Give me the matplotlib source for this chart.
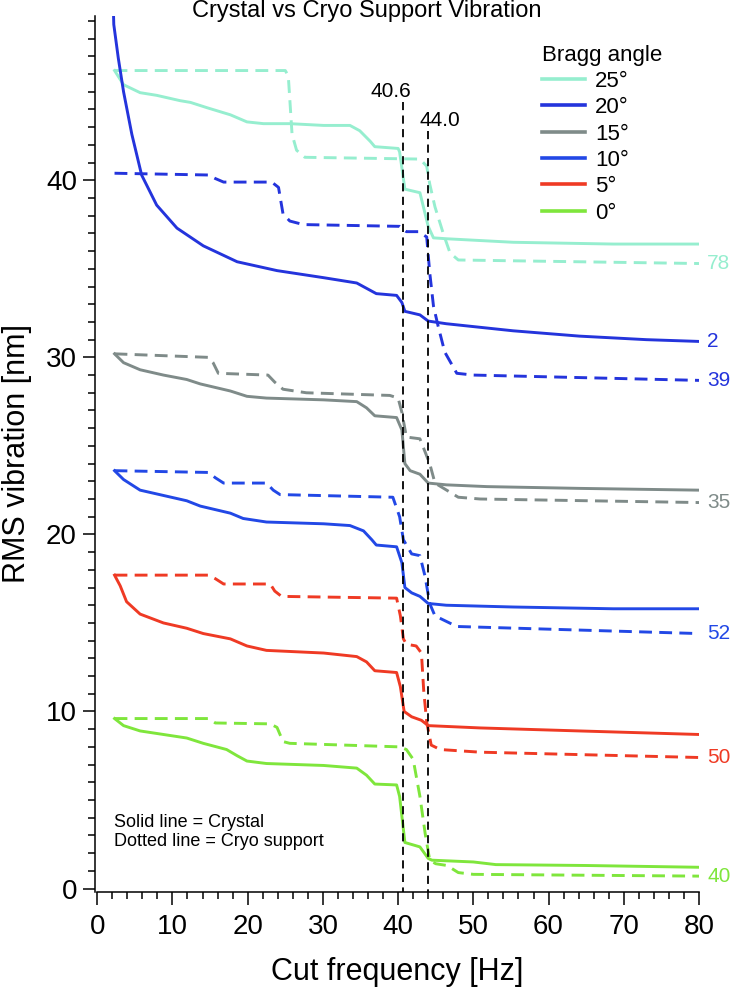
import matplotlib
matplotlib.use("Agg")
import matplotlib.pyplot as plt
from matplotlib.ticker import MultipleLocator

plt.rcParams['font.family'] = ['Liberation Sans', 'DejaVu Sans']

# Bragg angle series: solid = crystal, dashed = cryo support
angles = ["25°", "20°", "15°", "10°", "5°", "0°"]
colors = ["#96eecf", "#2434dc", "#7f8b89", "#2248e6", "#ef3a24", "#7fe63c"]
end_labels = ["78", "2", "39", "35", "52", "50", "40"]

crystal_25_f = [2.3, 3.5, 5.7, 7.9, 11.0, 12.4, 14.6, 17.7, 19.9, 22.1, 25.6, 30.1, 33.6, 34.9,
                36.3, 36.9, 40.0, 40.2, 40.9, 42.9, 44.0, 44.7, 46.4, 55.3, 68.6, 80]
crystal_25_v = [46.2, 45.4, 44.95, 44.8, 44.5, 44.4, 44.1, 43.7, 43.3, 43.2, 43.2, 43.1, 43.1, 42.8,
                42.2, 41.9, 41.8, 41.6, 39.5, 39.3, 37.4, 36.75, 36.7, 36.5, 36.4, 36.4]
cryo_25_f = [2.3, 25.0, 25.4, 25.9, 26.5, 27.6, 42.9, 43.8, 44.2, 44.9, 46.0, 46.9, 48.0, 80]
cryo_25_v = [46.2, 46.2, 45.9, 42.6, 41.7, 41.3, 41.2, 40.8, 39.8, 38.5, 37.0, 35.9, 35.5, 35.3]

crystal_20_f = [2.0, 2.2, 2.8, 3.5, 4.6, 5.9, 7.9, 10.6, 14.1, 18.6, 23.9, 30.1, 34.5, 35.8, 37.1,
                39.8, 40.5, 40.9, 42.9, 44.0, 46.4, 55.3, 64.1, 73.0, 80]
crystal_20_v = [52.0, 48.8, 46.9, 45.0, 42.6, 40.3, 38.6, 37.3, 36.3, 35.4, 34.9, 34.5, 34.2, 33.9, 33.6,
                33.5, 33.1, 32.6, 32.4, 32.05, 31.9, 31.5, 31.2, 31.0, 30.9]
cryo_20_f = [2.3, 14.8, 15.7, 16.8, 23.2, 24.1, 24.7, 25.6, 27.4, 40.2, 41.1, 42.7, 43.8, 44.2,
             44.7, 45.3, 46.2, 47.8, 50.0, 80]
cryo_20_v = [40.4, 40.3, 40.1, 39.9, 39.9, 39.6, 38.1, 37.7, 37.5, 37.4, 37.1, 37.1, 36.8, 34.8,
             32.9, 31.8, 30.3, 29.1, 29.0, 28.7]

crystal_15_f = [2.3, 3.5, 5.7, 8.8, 11.9, 13.7, 17.7, 19.9, 22.5, 30.1, 34.5, 35.8, 36.9, 39.8,
                40.5, 40.9, 41.6, 42.9, 44.0, 46.4, 51.8, 64.1, 80]
crystal_15_v = [30.2, 29.7, 29.3, 29.0, 28.75, 28.5, 28.1, 27.8, 27.7, 27.6, 27.5, 27.15, 26.7, 26.6,
                25.9, 24.0, 23.6, 23.4, 22.9, 22.8, 22.7, 22.6, 22.5]
cryo_15_f = [2.3, 14.8, 15.4, 16.1, 22.7, 23.6, 24.7, 27.8, 38.9, 40.0, 40.5, 41.1, 42.9, 44.2,
             44.9, 48.0, 50.9, 80]
cryo_15_v = [30.2, 30.0, 29.7, 29.1, 29.0, 28.6, 28.2, 28.0, 27.85, 27.7, 26.9, 25.5, 25.4, 24.0,
             22.9, 22.1, 22.0, 21.8]

crystal_10_f = [2.3, 3.5, 5.7, 8.8, 11.9, 13.7, 17.7, 19.4, 22.5, 30.1, 33.6, 35.4, 36.5, 37.1,
                39.8, 40.5, 40.9, 41.8, 42.9, 44.0, 46.4, 55.3, 68.6, 80]
crystal_10_v = [23.6, 23.1, 22.5, 22.2, 21.9, 21.6, 21.2, 20.9, 20.7, 20.6, 20.5, 20.2, 19.7, 19.4,
                19.3, 18.4, 17.0, 16.7, 16.5, 16.1, 16.0, 15.9, 15.8, 15.8]
cryo_10_f = [2.3, 14.8, 15.7, 16.8, 22.5, 23.4, 24.3, 39.3, 40.2, 40.7, 41.8, 42.9, 43.6, 44.2,
             44.9, 47.8, 80]
cryo_10_v = [23.6, 23.5, 23.2, 22.9, 22.9, 22.5, 22.25, 22.1, 21.0, 19.7, 18.9, 18.8, 17.6, 16.1,
             15.4, 14.8, 14.4]

crystal_5_f = [2.3, 3.05, 3.9, 5.7, 8.8, 11.9, 14.1, 17.7, 19.9, 22.5, 30.1, 34.5, 35.8, 36.9,
               39.8, 40.3, 40.8, 41.8, 43.1, 44.0, 50.9, 64.1, 80]
crystal_5_v = [17.7, 17.1, 16.2, 15.5, 15.0, 14.7, 14.4, 14.1, 13.7, 13.45, 13.3, 13.1, 12.8, 12.3,
               12.2, 11.4, 10.0, 9.7, 9.5, 9.2, 9.07, 8.9, 8.7]
cryo_5_f = [2.3, 14.8, 15.7, 16.8, 23.0, 23.6, 24.5, 39.8, 40.3, 40.7, 41.1, 42.4, 43.1, 43.4,
            43.8, 44.4, 45.6, 50.9, 80]
cryo_5_v = [17.7, 17.7, 17.5, 17.2, 17.2, 16.8, 16.5, 16.4, 15.4, 14.1, 13.8, 13.7, 13.3, 11.2,
            9.4, 8.1, 7.85, 7.7, 7.4]

crystal_0_f = [2.3, 3.5, 5.7, 8.8, 11.9, 14.1, 17.2, 18.6, 19.9, 22.5, 30.1, 34.5, 35.8, 36.9,
               39.8, 40.2, 40.9, 42.9, 44.0, 44.5, 50.0, 53.0, 65.0, 80]
crystal_0_v = [9.6, 9.2, 8.9, 8.7, 8.5, 8.2, 7.85, 7.5, 7.2, 7.06, 6.95, 6.8, 6.4, 5.9,
               5.85, 5.2, 2.6, 2.35, 1.7, 1.6, 1.5, 1.35, 1.3, 1.2]
cryo_0_f = [2.3, 14.8, 15.7, 23.0, 23.9, 24.7, 25.6, 40.2, 41.1, 42.0, 42.9, 43.6, 44.2, 45.0,
            46.5, 48.0, 50.0, 80]
cryo_0_v = [9.6, 9.6, 9.35, 9.3, 9.1, 8.3, 8.2, 8.0, 7.85, 7.3, 5.2, 3.1, 1.6, 1.4,
            1.3, 0.9, 0.8, 0.7]

cut_freqs = [40.6, 44.0]

crystal = [(crystal_25_f, crystal_25_v), (crystal_20_f, crystal_20_v), (crystal_15_f, crystal_15_v),
           (crystal_10_f, crystal_10_v), (crystal_5_f, crystal_5_v), (crystal_0_f, crystal_0_v)]
cryo = [(cryo_25_f, cryo_25_v), (cryo_20_f, cryo_20_v), (cryo_15_f, cryo_15_v),
        (cryo_10_f, cryo_10_v), (cryo_5_f, cryo_5_v), (cryo_0_f, cryo_0_v)]

fig = plt.figure(figsize=(7.34, 9.91), dpi=100)
ax = fig.add_axes([0.1294, 0.1002, 0.8229, 0.884])

handles = []
for (f, v), (fd, vd), c, lab in zip(crystal, cryo, colors, angles):
    h, = ax.plot(f, v, color=c, lw=2.1, label=lab, solid_joinstyle='round')
    ax.plot(fd, vd, color=c, lw=2.1, linestyle=(0, (4.4, 2.5)))
    handles.append(h)

ax.set_xlim(-0.3, 80)
ax.set_ylim(-0.18, 49.3)

# cut frequency markers
tops = [44.4, 42.8]
for fc, top in zip(cut_freqs, tops):
    ax.plot([fc, fc], [top, ax.get_ylim()[0]], color="black", lw=1.3,
            linestyle=(0, (4.5, 3)), zorder=5)
ax.text(cut_freqs[0] - 1.5, 45.0, f"{cut_freqs[0]:.1f}", fontsize=15, ha="center", va="center")
ax.text(cut_freqs[1] + 1.5, 43.4, f"{cut_freqs[1]:.1f}", fontsize=15, ha="center", va="center")

# end-of-line labels
ends = [(cryo_25_v[-1], colors[0]), (crystal_20_v[-1], colors[1]), (cryo_20_v[-1], colors[1]),
        (cryo_15_v[-1], colors[2]), (cryo_10_v[-1], colors[3]), (cryo_5_v[-1], colors[4]),
        (cryo_0_v[-1], colors[5])]
for txt, (yv, c) in zip(end_labels, ends):
    ax.annotate(txt, xy=(80, yv), xytext=(6, 0), textcoords="offset points",
                fontsize=15, color=c, va="center", ha="left", annotation_clip=False)

ax.text(2.2, 3.2, "Solid line = Crystal\nDotted line = Cryo support", fontsize=13,
        ha="left", va="center", linespacing=1.1)

leg = ax.legend(handles=handles, title="Bragg angle", frameon=False, fontsize=16,
                title_fontsize=16, handlelength=1.95, handletextpad=0.45, labelspacing=0.24,
                borderpad=0, borderaxespad=0, alignment="left",
                loc="upper left", bbox_to_anchor=(0.738, 0.955),
                bbox_transform=fig.transFigure)
for line in leg.get_lines():
    line.set_linewidth(2.6)

fig.text(0.5, 1 - 11 / 991, "Crystal vs Cryo Support Vibration", fontsize=17,
         ha="center", va="center")

ax.set_xlabel("Cut frequency [Hz]", fontsize=22)
ax.set_ylabel("RMS vibration [nm]", fontsize=22)
ax.xaxis.set_label_coords(0.5, -0.074)
ax.yaxis.set_label_coords(-0.104, 0.5)

ax.xaxis.set_major_locator(MultipleLocator(10))
ax.xaxis.set_minor_locator(MultipleLocator(2))
ax.yaxis.set_major_locator(MultipleLocator(10))
ax.yaxis.set_minor_locator(MultipleLocator(1))
ax.tick_params(which="major", direction="out", length=9, width=1.1, labelsize=20)
ax.tick_params(which="minor", direction="out", length=5, width=1.1)
ax.tick_params(axis="x", which="major", pad=7)
ax.tick_params(axis="y", which="major", pad=4)

ax.spines["top"].set_visible(False)
ax.spines["right"].set_visible(False)
ax.spines["left"].set_linewidth(1.1)
ax.spines["bottom"].set_linewidth(1.1)
ax.spines["bottom"].set_bounds(0, 80)

fig.savefig("out.png", dpi=100)
